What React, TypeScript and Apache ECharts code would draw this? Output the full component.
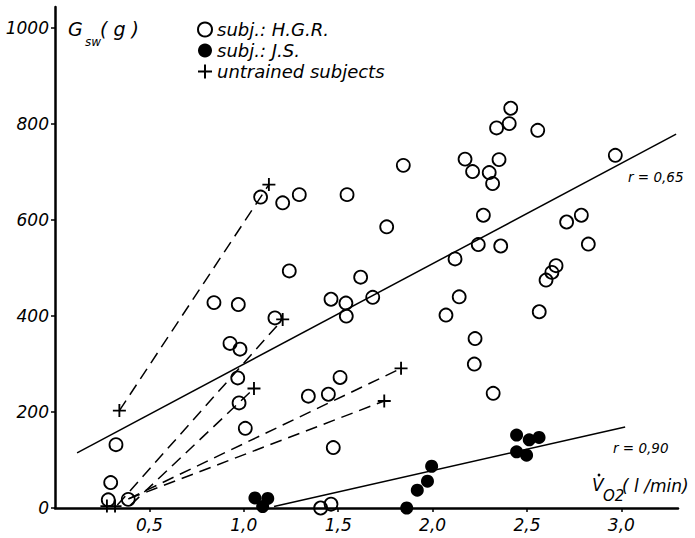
import React, { useEffect, useRef } from "react";
import * as echarts from "echarts";

const xTickValues = [0.5, 1.0, 1.5, 2.0, 2.5, 3.0];
const yTickValues = [0, 200, 400, 600, 800, 1000];

const hgrPoints: [number, number][] = [
  [1.089, 648], [1.206, 636], [1.294, 653], [1.547, 653], [1.241, 494],
  [0.842, 428], [0.971, 424], [1.462, 435], [1.541, 427], [1.543, 400],
  [1.165, 396], [0.927, 343], [0.98, 331], [0.968, 271], [1.51, 272],
  [1.342, 233], [1.448, 237], [0.975, 219], [1.008, 166], [1.474, 126],
  [2.414, 833], [2.406, 801], [2.339, 792], [2.557, 787], [2.968, 735],
  [1.845, 714], [2.172, 727], [2.352, 726], [2.212, 701], [2.3, 699],
  [2.318, 676], [2.269, 610], [1.757, 586], [2.71, 596], [2.788, 610],
  [2.825, 550], [2.242, 549], [2.361, 546], [2.119, 519], [1.619, 481],
  [1.683, 439], [2.654, 505], [2.632, 491], [2.601, 475], [2.141, 440],
  [2.071, 402], [2.565, 409], [2.225, 353], [2.221, 300], [2.321, 239],
  [0.323, 132], [0.295, 53], [0.282, 17], [0.388, 18], [1.407, 0], [1.462, 8],
];

const jsPoints: [number, number][] = [
  [1.059, 21], [1.127, 20], [1.1, 3], [1.863, 0], [1.919, 37], [1.973, 56],
  [1.995, 87], [2.445, 152], [2.512, 142], [2.564, 147], [2.445, 117], [2.498, 110],
];

const untrainedPoints: [number, number][] = [
  [0.341, 203], [1.133, 674], [1.206, 393], [1.054, 249], [1.833, 291],
  [1.744, 223], [0.275, 4], [0.318, 4],
];

const untrainedLines: [number, number][][] = [
  [[0.341, 203], [1.133, 674]],
  [[0.33, 6], [1.206, 393]],
  [[0.4, 6], [1.054, 249]],
  [[0.389, 19], [1.833, 291]],
  [[0.389, 19], [1.744, 223]],
];

const regressionHGR: [number, number][] = [[0.117, 115], [3.29, 779]];
const regressionJS: [number, number][] = [[1.16, 3], [3.02, 169]];

const FONT = "DejaVu Sans";
const INK = "#000";
const PLUS = "path://M-1,-7H1V-1H7V1H1V7H-1V1H-7V-1H-1Z";

export default function App() {
  const ref = useRef<HTMLDivElement>(null);
  useEffect(() => {
    if (!ref.current) return;
    const chart = echarts.init(ref.current, null, { renderer: "svg" });
    const labelStyle = {
      fontFamily: FONT,
      fontStyle: "italic" as const,
      fontSize: 17,
      color: INK,
    };
    const series: any[] = [
      {
        name: "subj.: H.G.R.",
        type: "scatter",
        data: hgrPoints,
        symbol: "circle",
        symbolSize: 13,
        itemStyle: { color: "rgba(255,255,255,0)", borderColor: INK, borderWidth: 1.8, opacity: 1 },
        z: 5,
      },
      {
        name: "subj.: J.S.",
        type: "scatter",
        data: jsPoints,
        symbol: "circle",
        symbolSize: 13,
        itemStyle: { color: INK, opacity: 1 },
        z: 5,
      },
      {
        name: "untrained subjects",
        type: "scatter",
        data: untrainedPoints,
        symbol: PLUS,
        symbolSize: 13,
        itemStyle: { color: INK, opacity: 1 },
        z: 5,
      },
      {
        type: "line",
        data: regressionHGR,
        showSymbol: false,
        symbol: "none",
        lineStyle: { color: INK, width: 1.5 },
        silent: true,
      },
      {
        type: "line",
        data: regressionJS,
        showSymbol: false,
        symbol: "none",
        lineStyle: { color: INK, width: 1.5 },
        silent: true,
      },
      ...untrainedLines.map((seg) => ({
        type: "line",
        data: seg,
        showSymbol: false,
        symbol: "none",
        lineStyle: { color: INK, width: 1.5, type: [12, 7] },
        silent: true,
      })),
    ];
    chart.setOption({
      animation: false,
      backgroundColor: "#fff",
      grid: { left: 55, right: 17, top: 7, bottom: 30, containLabel: false },
      xAxis: {
        type: "value",
        min: 0,
        max: 3.3,
        axisLine: { show: true, onZero: false, lineStyle: { color: INK, width: 2.5 } },
        axisTick: { show: true, length: 4, customValues: xTickValues, lineStyle: { color: INK, width: 1.5 } },
        axisLabel: {
          ...labelStyle,
          customValues: xTickValues,
          margin: 8,
          formatter: (v: number) => v.toFixed(1).replace(".", ","),
        },
        splitLine: { show: false },
      },
      yAxis: {
        type: "value",
        min: 0,
        max: 1044,
        axisLine: { show: true, onZero: false, lineStyle: { color: INK, width: 2.5 } },
        axisTick: { show: true, length: 4, customValues: yTickValues, lineStyle: { color: INK, width: 1.5 } },
        axisLabel: {
          ...labelStyle,
          customValues: yTickValues,
          margin: 6,
          formatter: (v: number) => String(v),
        },
        splitLine: { show: false },
      },
      legend: {
        data: ["subj.: H.G.R.", "subj.: J.S.", "untrained subjects"],
        orient: "vertical",
        left: 197,
        top: 19,
        padding: 0,
        itemGap: 0,
        itemWidth: 14,
        itemHeight: 14,
        selectedMode: false,
        textStyle: { fontFamily: FONT, fontStyle: "italic", fontSize: 18, color: INK, lineHeight: 21 },
      },
      graphic: [
        { type: "text", left: 68, top: 19, style: { text: "G", font: `italic 19px '${FONT}'`, fill: INK } },
        { type: "text", left: 85, top: 36, style: { text: "sw", font: `italic 12px '${FONT}'`, fill: INK } },
        { type: "text", left: 100, top: 19, style: { text: "( g )", font: `italic 19px '${FONT}'`, fill: INK } },
        { type: "text", left: 628, top: 170, style: { text: "r = 0,65", font: `italic 13.5px '${FONT}'`, fill: INK } },
        { type: "text", left: 613, top: 441, style: { text: "r = 0,90", font: `italic 13.5px '${FONT}'`, fill: INK } },
        { type: "text", left: 592, top: 476, style: { text: "V", font: `italic 17px '${FONT}'`, fill: INK } },
        { type: "circle", shape: { cx: 599, cy: 475, r: 1.4 }, style: { fill: INK } },
        { type: "text", left: 603, top: 488, style: { text: "O2", font: `italic 15px '${FONT}'`, fill: INK } },
        { type: "text", left: 622, top: 477, style: { text: "( l /min)", font: `italic 17px '${FONT}'`, fill: INK } },
      ],
      series,
    });
    return () => chart.dispose();
  }, []);
  return (
    <div
      ref={ref}
      style={{ position: "absolute", left: 0, top: 0, width: 695, height: 538, background: "#fff" }}
    />
  );
}
